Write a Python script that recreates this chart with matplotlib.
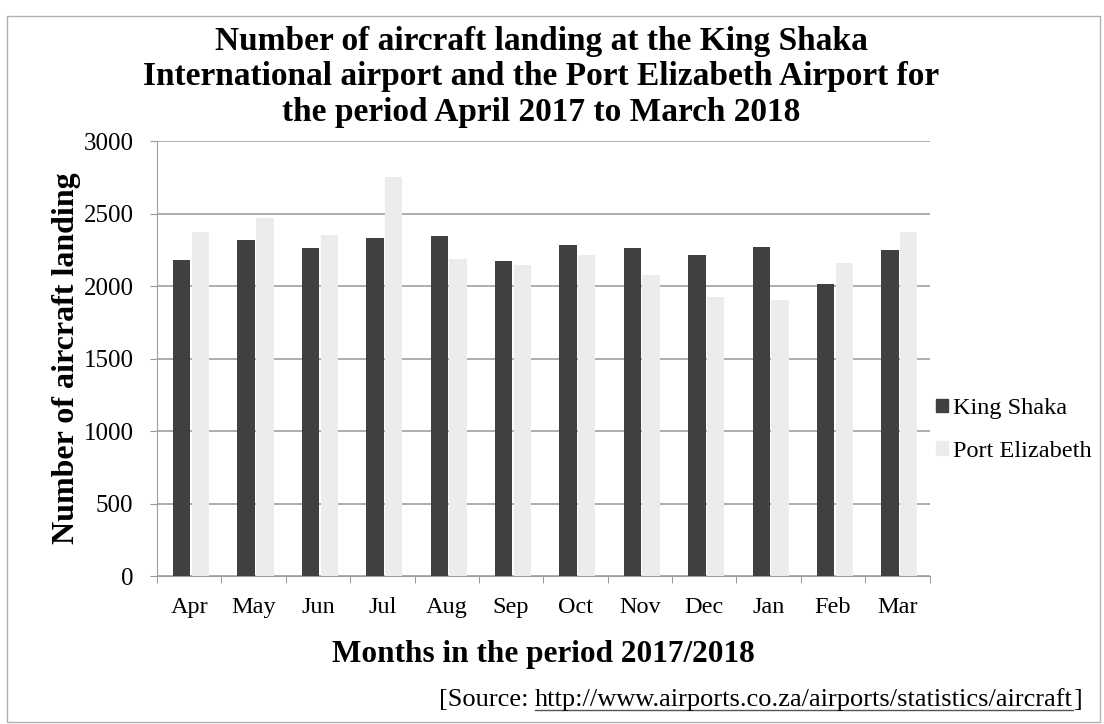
import matplotlib.pyplot as plt
import numpy as np
from matplotlib.patches import Rectangle, Patch
from matplotlib.lines import Line2D

plt.rcParams['font.family'] = ['Liberation Serif', 'DejaVu Serif']

# data
months = ['Apr', 'May', 'Jun', 'Jul', 'Aug', 'Sep', 'Oct', 'Nov', 'Dec', 'Jan', 'Feb', 'Mar']
king_shaka = [2180, 2320, 2265, 2330, 2345, 2170, 2285, 2260, 2215, 2270, 2015, 2250]
port_elizabeth = [2370, 2470, 2355, 2750, 2190, 2145, 2215, 2080, 1925, 1905, 2160, 2370]
y_ticks = [0, 500, 1000, 1500, 2000, 2500, 3000]

fig = plt.figure(figsize=(11.04, 7.24), dpi=100)
ax = fig.add_axes([0.1422, 0.2044, 0.6998, 0.6006])

x = np.arange(len(months))
w = 0.27
ax.bar(x - w / 2 + 0.02, king_shaka, w, color='#404040', label='King Shaka', zorder=3)
ax.bar(x + w / 2 + 0.04, port_elizabeth, w, color='#ececec', label='Port Elizabeth', zorder=3)

ax.set_xlim(-0.5, len(months) - 0.5)
ax.set_ylim(0, 3000)
ax.set_yticks(y_ticks)
ax.set_yticklabels([str(v) for v in y_ticks], fontsize=18)
ax.set_xticks(x)
ax.set_xticklabels(months, fontsize=17.5)
ax.tick_params(axis='x', which='major', length=0, pad=15)
ax.tick_params(axis='y', length=5, color='#999999', pad=12)
ax.set_xticks(np.arange(len(months) + 1) - 0.5, minor=True)
ax.tick_params(axis='x', which='minor', length=5, color='#888888', direction='out')
ax.grid(axis='y', color='#a0a0a0', linewidth=1.2, zorder=0)

for s in ['top', 'right']:
    ax.spines[s].set_visible(False)
ax.spines['left'].set_color('#a0a0a0')
ax.spines['bottom'].set_color('#a0a0a0')

ax.set_ylabel('Number of aircraft landing', fontsize=23, fontweight='bold', labelpad=2)
ax.set_xlabel('Months in the period 2017/2018', fontsize=22.5, fontweight='bold', labelpad=16)

fig.text(0.49, 0.823, 'Number of aircraft landing at the King Shaka\n'
         'International airport and the Port Elizabeth Airport for\n'
         'the period April 2017 to March 2018',
         ha='center', va='bottom', fontsize=24, fontweight='bold', linespacing=1.2)

handles = [Patch(color='#404040'), Patch(color='#ececec')]
fig.legend(handles, ['King Shaka', 'Port Elizabeth'], loc='center left',
           bbox_to_anchor=(0.828, 0.406), frameon=False, fontsize=17.5,
           handlelength=0.5, handleheight=0.5, handletextpad=0.2, labelspacing=0.9)

# source line, url underlined
right = 0.98
y_src = 0.018
fig.canvas.draw()
r = fig.canvas.get_renderer()
t_end = fig.text(right, y_src, ']', ha='right', va='bottom', fontsize=19)
bb = t_end.get_window_extent(r).transformed(fig.transFigure.inverted())
t_url = fig.text(bb.x0, y_src, 'http://www.airports.co.za/airports/statistics/aircraft',
                 ha='right', va='bottom', fontsize=19)
bu = t_url.get_window_extent(r).transformed(fig.transFigure.inverted())
fig.text(bu.x0, y_src, '[Source: ', ha='right', va='bottom', fontsize=19)
fig.add_artist(Line2D([bu.x0, bu.x1], [y_src + 0.002] * 2, transform=fig.transFigure,
                      color='#555555', linewidth=1))

fig.patches.append(Rectangle((0.006, 0.003), 0.99, 0.975, transform=fig.transFigure,
                             fill=False, edgecolor='#b0b0b0', linewidth=1))

fig.savefig('out.png', dpi=100)
